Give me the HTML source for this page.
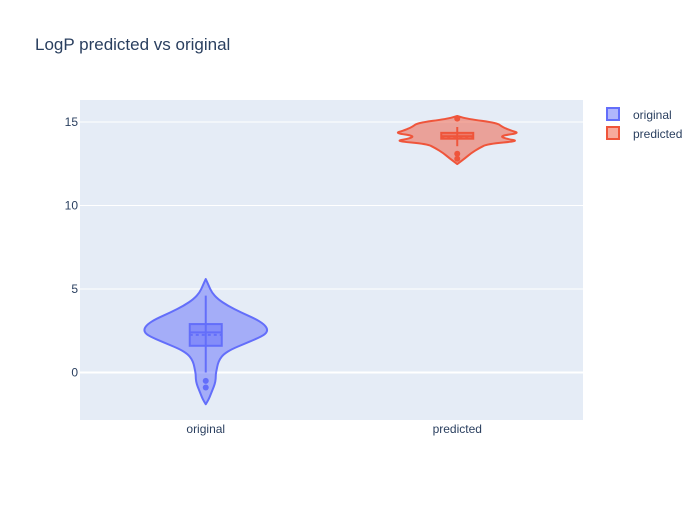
<!DOCTYPE html>
<html><head><meta charset="utf-8"><style>
body{margin:0;background:#fff;font-family:"Liberation Sans",sans-serif}
svg text{font-family:"Liberation Sans",sans-serif;fill:#2a3f5f}
</style></head><body>
<svg id="c" width="700" height="500">
<rect width="700" height="500" fill="#fff"/>
<text x="35" y="50" font-size="17">LogP predicted vs original</text>
<rect x="80" y="100" width="503" height="320" fill="#e5ecf6"/>
<g id="grid"></g><g id="marks"></g>
<g>
<rect x="607" y="108" width="12" height="12" fill="rgba(99,110,250,0.5)" stroke="#636efa" stroke-width="2"/>
<text x="633" y="119" font-size="12">original</text>
<rect x="607" y="127" width="12" height="12" fill="rgba(239,85,59,0.5)" stroke="#ef553b" stroke-width="2"/>
<text x="633" y="138" font-size="12">predicted</text>
</g>
</svg>
<script>
const categories=["original","predicted"];
const yTicks=[0,5,10,15];
const origProfileV=[5.6,5.2,4.8,4.4,4.0,3.6,3.2,2.9,2.6,2.3,2.0,1.7,1.4,1.1,0.8,0.5,0.2,-0.1,-0.4,-0.7,-1.0,-1.3,-1.6,-1.9];
const origProfileW=[0,3,6,12,22,35,50,58,62,60,50,38,26,18,14,12,11,10,10,9,7,5,3,0];
const predProfileV=[15.36,15.19,14.94,14.7,14.46,14.34,14.16,13.98,13.86,13.68,13.44,13.14,12.84,12.48];
const predProfileW=[0,10,40,45,55,62,42,50,62,30,22,14,8,0];
const origBox=[0,1.6,2.4,2.9,4.6]; const origMean=2.25; const origOutliers=[-0.5,-0.9];
const predBox=[13.55,14.0,14.15,14.35,14.7]; const predMean=14.12; const predOutliers=[15.2,13.1,12.8];
const X0=80,PW=503;
const x=i=>X0+PW*(i+0.5)/categories.length;
const y=v=>372.5-16.7*v;
const NS="http://www.w3.org/2000/svg";
function mk(t,a,p){const e=document.createElementNS(NS,t);for(const k in a)e.setAttribute(k,a[k]);p.appendChild(e);return e;}
const grid=document.getElementById('grid'),marks=document.getElementById('marks'),svg=document.getElementById('c');
yTicks.forEach(t=>{
 const l=mk('line',{x1:80,x2:583,y1:y(t),y2:y(t),stroke:'#fff','stroke-width':t===0?2:1},grid);
 
 
 const tx=mk('text',{x:78-0,y:y(t)+4,'text-anchor':'end','font-size':12},svg);
 tx.setAttribute('x',78);tx.textContent=t;
 
 
});
categories.forEach((c,i)=>{
 const tx=mk('text',{x:x(i),y:433,'text-anchor':'middle','font-size':12},svg);
 tx.textContent=c;
 
 
});
function violin(i,V,W,box,mean,outs,col,fill,name){
 const cx=x(i);const g=mk('g',{},marks);
 
 
 let pts=[];V.forEach((v,k)=>pts.push([cx+W[k],y(v)]));
 for(let k=V.length-1;k>=0;k--)pts.push([cx-W[k],y(V[k])]);
 // smooth path
 let d='M'+pts[0][0]+','+pts[0][1];
 for(let k=1;k<pts.length;k++){const p=pts[k-1],q=pts[k];d+=' Q'+p[0]+','+p[1]+' '+((p[0]+q[0])/2)+','+((p[1]+q[1])/2);}
 d+=' L'+pts[pts.length-1][0]+','+pts[pts.length-1][1]+'Z';
 const pa=mk('path',{d:d,fill:fill,stroke:col,'stroke-width':2,'stroke-linejoin':'round'},g);
 
 
 const wl=mk('line',{x1:cx,x2:cx,y1:y(box[0]),y2:y(box[4]),stroke:col,'stroke-width':2},g);
 
 
 const bx=mk('rect',{x:cx-16,y:y(box[3]),width:32,height:y(box[1])-y(box[3]),fill:fill,stroke:col,'stroke-width':2},g);
 
 
 const md=mk('line',{x1:cx-16,x2:cx+16,y1:y(box[2]),y2:y(box[2]),stroke:col,'stroke-width':2},g);
 
 
 const mn=mk('line',{x1:cx-16,x2:cx+16,y1:y(mean),y2:y(mean),stroke:col,'stroke-width':2,'stroke-dasharray':'3,3'},g);
 
 
 outs.forEach(o=>{
  const c=mk('circle',{cx:cx,cy:y(o),r:3,fill:col},g);
  
  
 });
}
violin(0,origProfileV,origProfileW,origBox,origMean,origOutliers,'#636efa','rgba(99,110,250,0.5)','original');
violin(1,predProfileV,predProfileW,predBox,predMean,predOutliers,'#ef553b','rgba(239,85,59,0.5)','predicted');
</script>
</body></html>
